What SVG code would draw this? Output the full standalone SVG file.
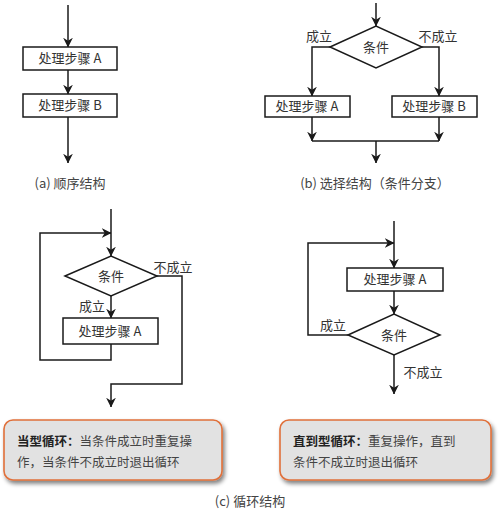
<svg xmlns="http://www.w3.org/2000/svg" width="500" height="510" viewBox="0 0 500 510">
<style>
.ln{fill:none;stroke:#1a1a1a;stroke-width:1.5}
.bx{fill:#fff;stroke:#1a1a1a;stroke-width:1.5}
.t{font-family:"Noto Sans CJK SC","Liberation Sans",sans-serif;font-size:13px;fill:#333;text-anchor:middle}
.cap{font-family:"Noto Sans CJK SC","Liberation Sans",sans-serif;font-size:13px;fill:#444;text-anchor:middle}
.nt{fill:#e2e2e2;stroke:#e0703a;stroke-width:1.6}
.nx{font-family:"Noto Sans CJK SC","Liberation Sans",sans-serif;font-size:12.5px;fill:#444}
.nb{font-weight:bold;fill:#222}
</style>
<defs>
<marker id="ar" viewBox="0 0 10 10" refX="9.5" refY="5" markerWidth="6.5" markerHeight="6.5" markerUnits="strokeWidth" orient="auto">
<path d="M0,0 L10,5 L0,10 L3,5 z" fill="#1a1a1a"/>
</marker>
<filter id="sh" x="-10%" y="-20%" width="125%" height="150%">
<feGaussianBlur in="SourceAlpha" stdDeviation="2"/>
<feOffset dx="2" dy="3" result="b"/>
<feComponentTransfer><feFuncA type="linear" slope="0.5"/></feComponentTransfer>
<feMerge><feMergeNode/><feMergeNode in="SourceGraphic"/></feMerge>
</filter>
</defs>

<g id="connectors">
<!-- a -->
<path class="ln" d="M68,5 V47" marker-end="url(#ar)"/>
<path class="ln" d="M68,70 V94" marker-end="url(#ar)"/>
<path class="ln" d="M68,117 V163" marker-end="url(#ar)"/>
<!-- b -->
<path class="ln" d="M376,3 V26" marker-end="url(#ar)"/>
<path class="ln" d="M330,47 H312 V96" marker-end="url(#ar)"/>
<path class="ln" d="M422,47 H439 V96" marker-end="url(#ar)"/>
<path class="ln" d="M312,117 V141" marker-end="url(#ar)"/>
<path class="ln" d="M439,117 V141" marker-end="url(#ar)"/>
<path class="ln" d="M312,141 H439"/>
<path class="ln" d="M376,141 V163" marker-end="url(#ar)"/>
<!-- c left -->
<path class="ln" d="M111,209 V256" marker-end="url(#ar)"/>
<path class="ln" d="M111,344 V360 H40 V233 H111" marker-end="url(#ar)"/>
<path class="ln" d="M111,296 V318" marker-end="url(#ar)"/>
<path class="ln" d="M157,276 H182 V384 H111 V407" marker-end="url(#ar)"/>
<!-- c right -->
<path class="ln" d="M394,221 V268" marker-end="url(#ar)"/>
<path class="ln" d="M348,335 H308 V243 H394" marker-end="url(#ar)"/>
<path class="ln" d="M394,291 V314" marker-end="url(#ar)"/>
<path class="ln" d="M394,355 V394" marker-end="url(#ar)"/>
</g>

<g id="a-step-a"><rect class="bx" x="23" y="47" width="94" height="23"/><text class="t" x="70" y="63">处理步骤 A</text></g>
<g id="a-step-b"><rect class="bx" x="23" y="94" width="94" height="23"/><text class="t" x="70" y="110">处理步骤 B</text></g>
<g id="a-caption"><text class="cap" x="70" y="188">(a) 顺序结构</text></g>

<g id="b-cond"><polygon class="bx" points="330,47 376,26 422,47 376,68"/><text class="t" x="376" y="52">条件</text></g>
<g id="b-label-yes"><text class="t" x="319" y="41">成立</text></g>
<g id="b-label-no"><text class="t" x="438" y="41">不成立</text></g>
<g id="b-step-a"><rect class="bx" x="265" y="96" width="85" height="21"/><text class="t" x="307" y="111">处理步骤 A</text></g>
<g id="b-step-b"><rect class="bx" x="392" y="96" width="85" height="21"/><text class="t" x="434" y="111">处理步骤 B</text></g>
<g id="b-caption"><text class="cap" x="375" y="188">(b) 选择结构（条件分支）</text></g>

<g id="cl-cond"><polygon class="bx" points="65,276 111,256 157,276 111,296"/><text class="t" x="111" y="281">条件</text></g>
<g id="cl-label-no"><text class="t" x="173" y="272">不成立</text></g>
<g id="cl-label-yes"><text class="t" x="92" y="311">成立</text></g>
<g id="cl-step"><rect class="bx" x="63" y="318" width="95" height="26"/><text class="t" x="110" y="336">处理步骤 A</text></g>

<g id="cr-step"><rect class="bx" x="347" y="268" width="96" height="23"/><text class="t" x="395" y="284">处理步骤 A</text></g>
<g id="cr-cond"><polygon class="bx" points="348,335 394,314 440,335 394,355"/><text class="t" x="394" y="340">条件</text></g>
<g id="cr-label-yes"><text class="t" x="333" y="330">成立</text></g>
<g id="cr-label-no"><text class="t" x="423" y="377">不成立</text></g>

<g id="note-left">
<rect class="nt" x="4" y="420" width="218" height="60" rx="9" filter="url(#sh)"/>
<text class="nx" x="17" y="446"><tspan class="nb">当型循环：</tspan>当条件成立时重复操</text>
<text class="nx" x="17" y="467">作，当条件不成立时退出循环</text>
</g>
<g id="note-right">
<rect class="nt" x="280" y="420" width="211" height="60" rx="9" filter="url(#sh)"/>
<text class="nx" x="293" y="446"><tspan class="nb">直到型循环：</tspan>重复操作，直到</text>
<text class="nx" x="293" y="467">条件不成立时退出循环</text>
</g>
<g id="c-caption"><text class="cap" x="250" y="506">(c) 循环结构</text></g>
</svg>
